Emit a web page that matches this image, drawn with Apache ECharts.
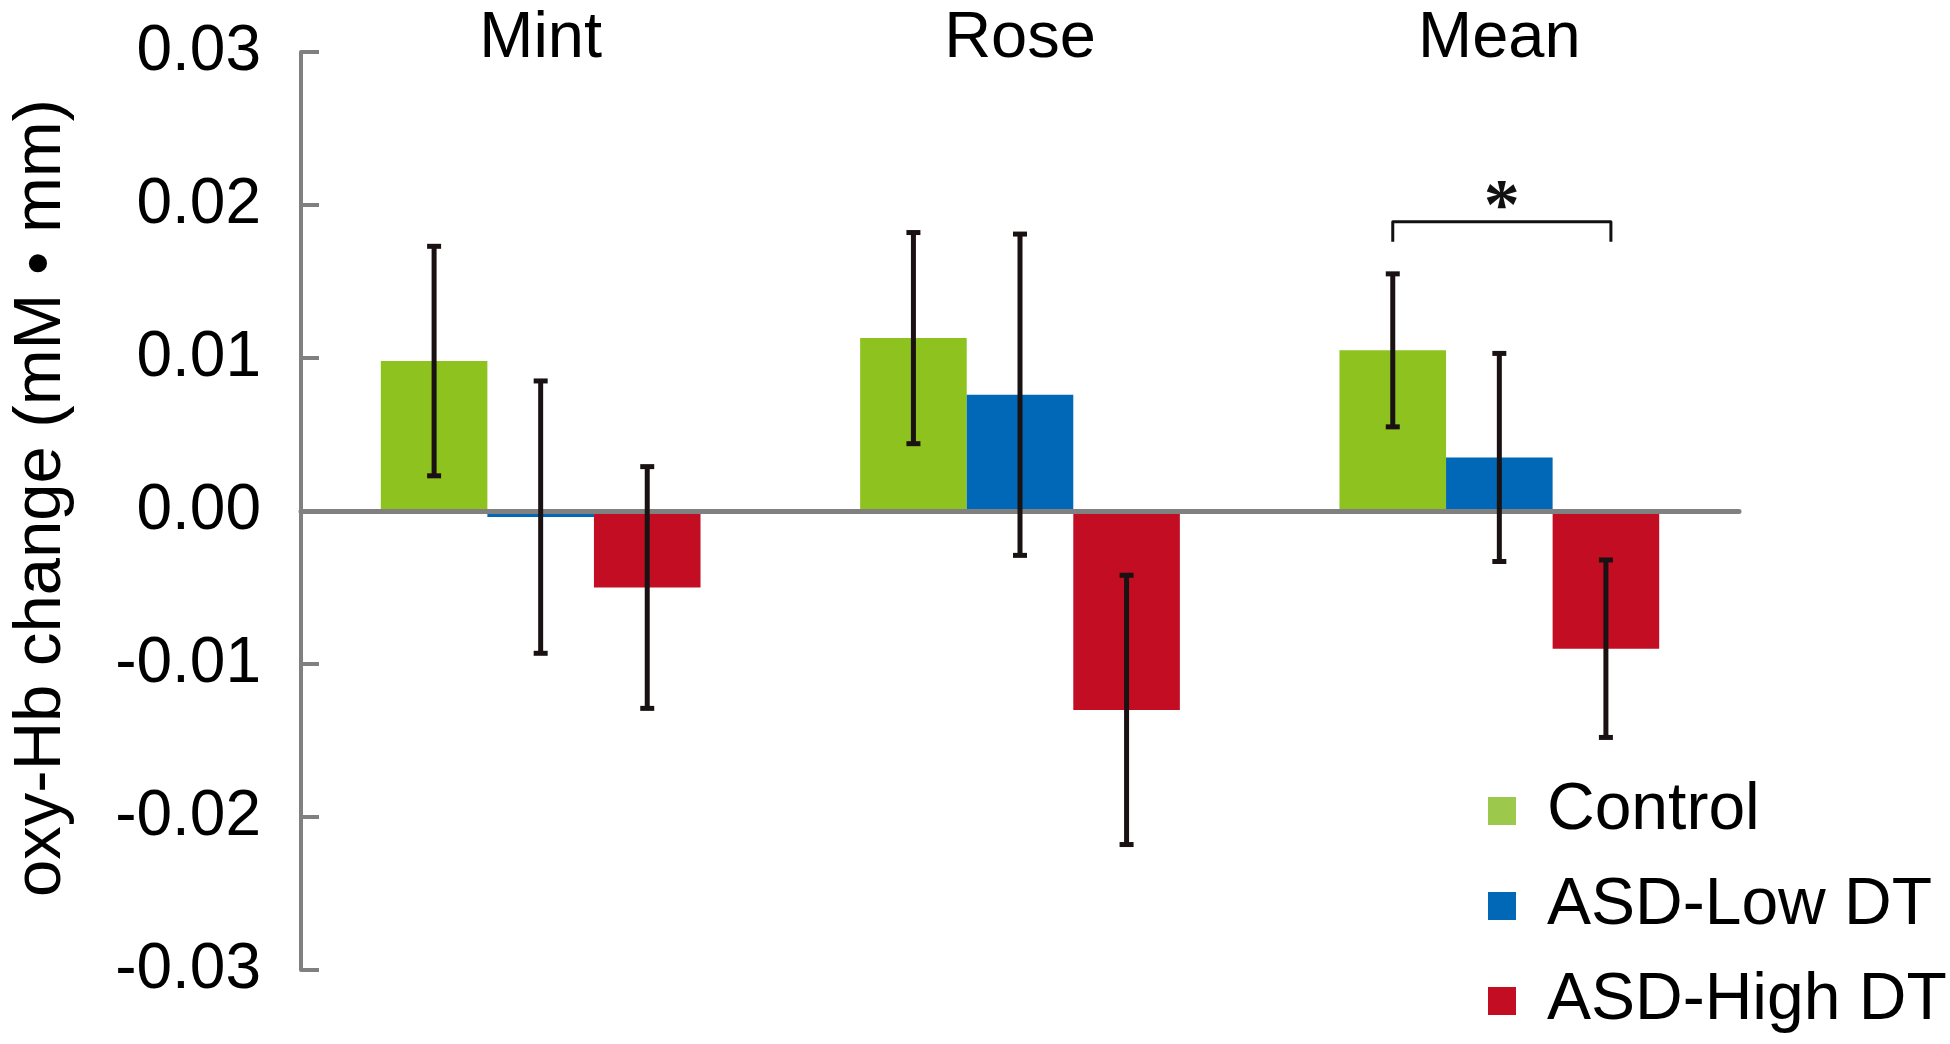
<!DOCTYPE html>
<html>
<head>
<meta charset="utf-8">
<title>oxy-Hb change</title>
<script src="https://cdn.jsdelivr.net/npm/echarts@6/dist/echarts.min.js"></script>
<style>
  html, body { margin: 0; padding: 0; background: #fff; }
  #chart { width: 1950px; height: 1044px; }
</style>
</head>
<body>
<div id="chart"></div>
<script>
// categories and groups
const categories = ['Mint', 'Rose', 'Mean']
const groups = ['Control', 'ASD-Low DT', 'ASD-High DT']

// bar values (mM·mm) and error half-widths
const controlMean = [0.0098, 0.0113, 0.0105]
const controlErr = [0.0075, 0.0069, 0.0050]
const lowMean = [-0.0004, 0.0076, 0.0035]
const lowErr = [0.0089, 0.0105, 0.0068]
const highMean = [-0.0050, -0.0130, -0.0090]
const highErr = [0.0079, 0.0088, 0.0058]

// y axis range
const yMin = -0.03
const yMax = 0.03
const yStep = 0.01

// significance bracket: category, from group, to group, top, drop end
const sigBracket = [2, 0, 2, 0.0189, 0.0176]
const sigStar = 0.0204

const barColors = ['#8dc21f', '#0068b7', '#c30d23']
const legendColors = ['#9cc94b', '#0068b7', '#c30d23']
const font = 'Liberation Sans, Arial, sans-serif'
const gapRatio = 0.333

const chart = echarts.init(document.getElementById('chart'))

const means = [controlMean, lowMean, highMean]
const errs = [controlErr, lowErr, highErr]
const errData = []
means.forEach((m, s) => {
  m.forEach((v, c) => errData.push([c, s, v, errs[s][c]]))
})

// bar centre for group s inside category c
function barX(api, c, s) {
  const bandW = api.size([1, 0])[0]
  const barW = bandW * (1 - gapRatio) / 3
  return api.coord([c, 0])[0] + (s - 1) * barW
}

const barSeries = groups.map((name, i) => ({
  name,
  type: 'bar',
  data: means[i],
  barGap: '0%',
  barCategoryGap: '33.3%',
  itemStyle: { color: barColors[i] },
  z: 2
}))

const option = {
  backgroundColor: '#fff',
  animation: false,
  grid: { left: 298, right: 211, top: 52, bottom: 74 },
  legend: {
    orient: 'vertical',
    left: 1488,
    top: 778,
    padding: 0,
    itemWidth: 28,
    itemHeight: 28,
    itemGap: 29,
    icon: 'rect',
    textStyle: { fontSize: 66, fontFamily: font, color: '#000', lineHeight: 66, padding: [0, 0, 0, 26] },
    data: groups.map((name, i) => ({ name, itemStyle: { color: legendColors[i] } }))
  },
  xAxis: [
    {
      type: 'category',
      data: categories,
      z: 5,
      axisLine: { onZero: true, lineStyle: { color: '#808080', width: 5 } },
      axisTick: { show: false },
      axisLabel: { show: false }
    },
    {
      type: 'category',
      data: categories,
      position: 'top',
      axisLine: { show: false, onZero: false },
      axisTick: { show: false },
      axisLabel: {
        fontSize: 65,
        fontFamily: font,
        color: '#000',
        verticalAlign: 'middle',
        margin: 13
      }
    }
  ],
  yAxis: {
    type: 'value',
    min: yMin,
    max: yMax,
    interval: yStep,
    name: 'oxy-Hb change (mM • mm)',
    nameLocation: 'middle',
    nameGap: 226,
    nameTextStyle: { fontSize: 67, fontFamily: font, color: '#000', padding: [0, 0, 0, 26] },
    axisLine: { show: true, lineStyle: { color: '#808080', width: 4 } },
    axisTick: { show: true, inside: true, length: 18, lineStyle: { color: '#808080', width: 4 } },
    splitLine: { show: false },
    axisLabel: {
      fontSize: 64,
      fontFamily: font,
      color: '#000',
      margin: 40,
      formatter: v => v.toFixed(2)
    }
  },
  series: [
    ...barSeries,
    {
      type: 'custom',
      name: 'err',
      z: 10,
      encode: { x: 0, y: 2 },
      data: errData,
      renderItem(params, api) {
        const c = api.value(0)
        const s = api.value(1)
        const v = api.value(2)
        const e = api.value(3)
        const x = barX(api, c, s)
        const top = api.coord([c, v + e])[1]
        const bot = api.coord([c, v - e])[1]
        const style = { stroke: '#1a1212', lineWidth: 5 }
        return {
          type: 'group',
          children: [
            { type: 'line', shape: { x1: x, y1: top, x2: x, y2: bot }, style },
            { type: 'line', shape: { x1: x - 7, y1: top, x2: x + 7, y2: top }, style },
            { type: 'line', shape: { x1: x - 7, y1: bot, x2: x + 7, y2: bot }, style }
          ]
        }
      }
    },
    {
      type: 'custom',
      name: 'sig',
      z: 10,
      encode: { x: 0, y: 3 },
      data: [sigBracket],
      renderItem(params, api) {
        const c = api.value(0)
        const x1 = barX(api, c, api.value(1))
        const x2 = barX(api, c, api.value(2)) + 5
        const yTop = api.coord([c, api.value(3)])[1]
        const yEnd = api.coord([c, api.value(4)])[1]
        const starY = api.coord([c, sigStar])[1]
        return {
          type: 'group',
          children: [
            {
              type: 'polyline',
              shape: { points: [[x1, yEnd], [x1, yTop], [x2, yTop], [x2, yEnd]] },
              style: { stroke: '#111', lineWidth: 3, fill: null, lineJoin: 'round' }
            },
            {
              type: 'text',
              style: {
                text: '*',
                x: (x1 + x2) / 2,
                y: starY + 11,
                align: 'center',
                verticalAlign: 'middle',
                fontSize: 72,
                fontWeight: 'bold',
                fontFamily: 'Liberation Serif, Times New Roman, serif',
                fill: '#111'
              }
            }
          ]
        }
      }
    }
  ]
}

chart.setOption(option)
</script>
</body>
</html>
